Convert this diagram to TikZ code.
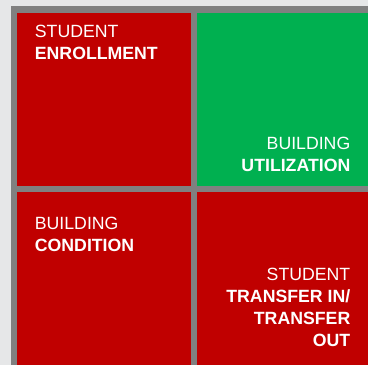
\documentclass[tikz,border=0pt]{standalone}
\usepackage{fontspec}
\setmainfont{Liberation Sans}
\definecolor{bgc}{HTML}{E6E7E8}
\definecolor{framec}{HTML}{808080}
\definecolor{cellred}{HTML}{C00000}
\definecolor{cellgreen}{HTML}{00B050}
\begin{document}
\begin{tikzpicture}[x=1pt,y=-1pt,
  lbl/.style={inner sep=0pt, text=white, font=\fontsize{17.7pt}{22pt}\selectfont},
  lefttxt/.style={lbl, align=left, anchor=north west},
  righttxt/.style={lbl, align=right, anchor=north east}]
\useasboundingbox (0,0) rectangle (368,365);
\fill[bgc] (0,0) rectangle (368,365);
\fill[framec] (11,6) rectangle (368,365);
\fill[cellred] (17,13) rectangle (190.7,185.7);
\fill[cellgreen] (196.7,13) rectangle (368,185.7);
\fill[cellred] (17,191.7) rectangle (190.7,365);
\fill[cellred] (196.7,191.7) rectangle (368,365);
\node[lefttxt] (enroll) at (34.7,25) {STUDENT\\\textbf{ENROLLMENT}};
\node[righttxt] (util) at (350.5,136.7) {BUILDING\\\textbf{UTILIZATION}};
\node[lefttxt] (cond) at (34.7,216.7) {BUILDING\\\textbf{CONDITION}};
\node[righttxt] (transfer) at (350.5,268.3) {STUDENT\\\textbf{TRANSFER IN/}\\\textbf{TRANSFER}\\\textbf{OUT}};
\end{tikzpicture}
\end{document}
